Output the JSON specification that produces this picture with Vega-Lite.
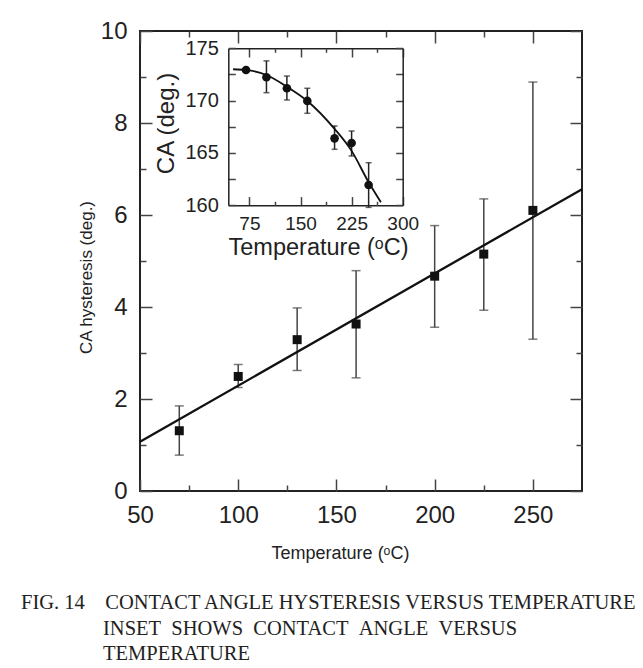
{
  "$schema": "https://vega.github.io/schema/vega-lite/v6.json",
  "width": 442,
  "height": 460,
  "autosize": {"type": "none"},
  "padding": {"left": 140, "top": 31, "right": 61, "bottom": 177},
  "background": "white",
  "config": {
    "view": {"stroke": "#222", "strokeWidth": 2},
    "axis": {
      "grid": false,
      "labelFont": "Liberation Sans",
      "titleFont": "Liberation Sans",
      "titleFontWeight": "normal",
      "labelColor": "#222",
      "titleColor": "#222",
      "tickColor": "#444",
      "tickWidth": 1.5,
      "domainColor": "#222",
      "domainWidth": 1.5,
      "labelFlush": false,
      "labelOverlap": false
    }
  },
  "title": {
    "text": [
      "FIG. 14\u00a0\u00a0\u00a0\u00a0CONTACT ANGLE HYSTERESIS VERSUS TEMPERATURE",
      "\u200b\u00a0\u00a0\u00a0\u00a0\u00a0\u00a0\u00a0\u00a0\u00a0\u00a0\u00a0\u00a0\u00a0\u00a0\u00a0\u00a0INSET\u00a0\u00a0SHOWS\u00a0\u00a0CONTACT\u00a0\u00a0ANGLE\u00a0\u00a0VERSUS",
      "\u200b\u00a0\u00a0\u00a0\u00a0\u00a0\u00a0\u00a0\u00a0\u00a0\u00a0\u00a0\u00a0\u00a0\u00a0\u00a0\u00a0TEMPERATURE"
    ],
    "orient": "bottom",
    "anchor": "start",
    "frame": "group",
    "dx": -119,
    "offset": 31,
    "font": "Liberation Serif",
    "fontSize": 20.5,
    "fontWeight": "normal",
    "color": "#222",
    "lineHeight": 25.5
  },
  "datasets": {
    "main": [
      {"T": 70, "h": 1.31, "lo": 0.78, "hi": 1.85},
      {"T": 100, "h": 2.49, "lo": 2.25, "hi": 2.75},
      {"T": 130, "h": 3.29, "lo": 2.62, "hi": 3.98},
      {"T": 160, "h": 3.63, "lo": 2.46, "hi": 4.79},
      {"T": 200, "h": 4.67, "lo": 3.56, "hi": 5.77},
      {"T": 225, "h": 5.15, "lo": 3.93, "hi": 6.35},
      {"T": 250, "h": 6.1, "lo": 3.3, "hi": 8.89}
    ],
    "fit": [
      {"T": 50, "h": 1.07},
      {"T": 275, "h": 6.56}
    ],
    "inset": [
      {"T": 70, "ca": 172.93, "lo": 172.78, "hi": 173.08},
      {"T": 100, "ca": 172.23, "lo": 170.76, "hi": 173.8},
      {"T": 130, "ca": 171.18, "lo": 170.06, "hi": 172.35},
      {"T": 160, "ca": 169.97, "lo": 168.79, "hi": 171.18},
      {"T": 200, "ca": 166.4, "lo": 165.35, "hi": 167.58},
      {"T": 225, "ca": 165.95, "lo": 164.71, "hi": 167.1},
      {"T": 250, "ca": 161.94, "lo": 159.8, "hi": 164.07}
    ],
    "curve": [
      {"T": 51, "ca": 173.0},
      {"T": 70, "ca": 172.93},
      {"T": 100, "ca": 172.45},
      {"T": 130, "ca": 171.33},
      {"T": 160, "ca": 169.97},
      {"T": 200, "ca": 167.3},
      {"T": 225, "ca": 165.2},
      {"T": 250, "ca": 162.2},
      {"T": 268, "ca": 160.3}
    ]
  },
  "resolve": {"scale": {"x": "independent", "y": "independent"}, "axis": {"x": "independent", "y": "independent"}},
  "layer": [
    {
      "resolve": {"axis": {"x": "independent", "y": "independent"}},
      "layer": [
        {
          "data": {"name": "main"},
          "mark": {"type": "rule", "color": "#444", "strokeWidth": 1.5},
          "encoding": {
            "x": {"field": "T", "type": "quantitative",
              "scale": {"domain": [50, 275], "nice": false, "zero": false},
              "axis": {"orient": "bottom", "values": [50, 100, 150, 200, 250], "tickSize": -12, "domain": false,
                "labelFontSize": 24, "labelPadding": 24,
                "title": "Temperature (ᵒC)", "titleFontSize": 18, "titleX": 200, "titleY": 67, "titleBaseline": "alphabetic", "titleAlign": "center"}},
            "y": {"field": "lo", "type": "quantitative",
              "scale": {"domain": [0, 10], "nice": false, "zero": false},
              "axis": {"orient": "left", "values": [0, 2, 4, 6, 8, 10], "tickSize": -12, "domain": false,
                "labelFontSize": 24, "labelPadding": 25,
                "title": "CA hysteresis (deg.)", "titleFontSize": 17, "titleX": -54, "titleY": 246, "titleBaseline": "middle", "titleAlign": "center", "titleAngle": -90}},
            "y2": {"field": "hi"}
          }
        },
        {
          "data": {"name": "main"},
          "mark": {"type": "tick", "orient": "horizontal", "color": "#444", "size": 9, "thickness": 1.5},
          "encoding": {
            "x": {"field": "T", "type": "quantitative",
              "scale": {"domain": [50, 275], "nice": false, "zero": false},
              "axis": {"orient": "top", "values": [75, 125, 175, 225], "tickSize": -6, "domain": false, "labels": false, "title": null}},
            "y": {"field": "lo", "type": "quantitative",
              "scale": {"domain": [0, 10], "nice": false, "zero": false},
              "axis": {"orient": "right", "values": [1, 3, 5, 7, 9], "tickSize": -6, "domain": false, "labels": false, "title": null}}
          }
        },
        {
          "data": {"name": "main"},
          "mark": {"type": "tick", "orient": "horizontal", "color": "#444", "size": 9, "thickness": 1.5},
          "encoding": {
            "x": {"field": "T", "type": "quantitative", "scale": {"domain": [50, 275], "nice": false, "zero": false}, "axis": null},
            "y": {"field": "hi", "type": "quantitative", "scale": {"domain": [0, 10], "nice": false, "zero": false}, "axis": null}
          }
        },
        {
          "data": {"name": "main"},
          "mark": {"type": "point", "shape": "square", "filled": true, "color": "#111", "size": 81, "opacity": 1},
          "encoding": {
            "x": {"field": "T", "type": "quantitative",
              "scale": {"domain": [50, 275], "nice": false, "zero": false},
              "axis": {"orient": "bottom", "values": [75, 125, 175, 225], "tickSize": -6, "domain": false, "labels": false, "title": null}},
            "y": {"field": "h", "type": "quantitative",
              "scale": {"domain": [0, 10], "nice": false, "zero": false},
              "axis": {"orient": "left", "values": [1, 3, 5, 7, 9], "tickSize": -6, "domain": false, "labels": false, "title": null}}
          }
        },
        {
          "data": {"name": "fit"},
          "mark": {"type": "line", "color": "#111", "strokeWidth": 2.3},
          "encoding": {
            "x": {"field": "T", "type": "quantitative",
              "scale": {"domain": [50, 275], "nice": false, "zero": false},
              "axis": {"orient": "top", "values": [50, 100, 150, 200, 250], "tickSize": -12, "domain": false, "labels": false, "title": null}},
            "y": {"field": "h", "type": "quantitative",
              "scale": {"domain": [0, 10], "nice": false, "zero": false},
              "axis": {"orient": "right", "values": [0, 2, 4, 6, 8, 10], "tickSize": -12, "domain": false, "labels": false, "title": null}}
          }
        }
      ]
    },
    {
      "resolve": {"axis": {"x": "independent", "y": "independent"}},
      "layer": [
        {
          "data": {"name": "inset"},
          "mark": {"type": "rule", "color": "#222", "strokeWidth": 1.5},
          "encoding": {
            "x": {"field": "T", "type": "quantitative",
              "scale": {"domain": [44, 300], "range": [88.3, 262.7], "nice": false, "zero": false},
              "axis": {"orient": "bottom", "offset": -285.7, "values": [75, 150, 225, 300], "tickSize": -8.7, "domain": true,
                "labelFontSize": 19, "labelPadding": 18,
                "title": "Temperature (ᵒC)", "titleFontSize": 23.5, "titleX": 178, "titleY": 49.5, "titleBaseline": "alphabetic", "titleAlign": "center"}},
            "y": {"field": "lo", "type": "quantitative",
              "scale": {"domain": [160, 175], "range": [174.3, 17.3], "nice": false, "zero": false},
              "axis": {"orient": "left", "offset": -88.3, "values": [160, 162.5, 165, 167.5, 170, 172.5, 175],
                "labelExpr": "datum.value % 5 === 0 ? datum.label : ''", "tickSize": -7, "domain": true,
                "labelFontSize": 20, "labelPadding": 17,
                "title": "CA (deg.)", "titleFontSize": 24, "titleX": -62, "titleY": 92, "titleBaseline": "middle", "titleAlign": "center", "titleAngle": -90}},
            "y2": {"field": "hi"}
          }
        },
        {
          "data": {"name": "inset"},
          "mark": {"type": "tick", "orient": "horizontal", "color": "#222", "size": 6, "thickness": 1.5},
          "encoding": {
            "x": {"field": "T", "type": "quantitative",
              "scale": {"domain": [44, 300], "range": [88.3, 262.7], "nice": false, "zero": false},
              "axis": {"orient": "bottom", "offset": -285.7, "values": [112.5, 187.5, 262.5], "tickSize": -4, "domain": false, "labels": false, "title": null}},
            "y": {"field": "lo", "type": "quantitative",
              "scale": {"domain": [160, 175], "range": [174.3, 17.3], "nice": false, "zero": false},
              "axis": {"orient": "right", "offset": -179.3, "values": [160, 162.5, 165, 167.5, 170, 172.5, 175], "tickSize": -7, "domain": true, "labels": false, "title": null}}
          }
        },
        {
          "data": {"name": "inset"},
          "mark": {"type": "tick", "orient": "horizontal", "color": "#222", "size": 6, "thickness": 1.5},
          "encoding": {
            "x": {"field": "T", "type": "quantitative",
              "scale": {"domain": [44, 300], "range": [88.3, 262.7], "nice": false, "zero": false},
              "axis": {"orient": "top", "offset": -17.3, "values": [75, 150, 225, 300], "tickSize": -8.7, "domain": true, "labels": false, "title": null}},
            "y": {"field": "hi", "type": "quantitative",
              "scale": {"domain": [160, 175], "range": [174.3, 17.3], "nice": false, "zero": false}, "axis": null}
          }
        },
        {
          "data": {"name": "inset"},
          "mark": {"type": "circle", "color": "#111", "size": 75, "opacity": 1},
          "encoding": {
            "x": {"field": "T", "type": "quantitative",
              "scale": {"domain": [44, 300], "range": [88.3, 262.7], "nice": false, "zero": false},
              "axis": {"orient": "top", "offset": -17.3, "values": [112.5, 187.5, 262.5], "tickSize": -4, "domain": false, "labels": false, "title": null}},
            "y": {"field": "ca", "type": "quantitative",
              "scale": {"domain": [160, 175], "range": [174.3, 17.3], "nice": false, "zero": false}, "axis": null}
          }
        },
        {
          "data": {"name": "curve"},
          "mark": {"type": "line", "color": "#111", "strokeWidth": 1.8, "interpolate": "monotone"},
          "encoding": {
            "x": {"field": "T", "type": "quantitative",
              "scale": {"domain": [44, 300], "range": [88.3, 262.7], "nice": false, "zero": false}, "axis": null},
            "y": {"field": "ca", "type": "quantitative",
              "scale": {"domain": [160, 175], "range": [174.3, 17.3], "nice": false, "zero": false}, "axis": null}
          }
        }
      ]
    }
  ]
}
